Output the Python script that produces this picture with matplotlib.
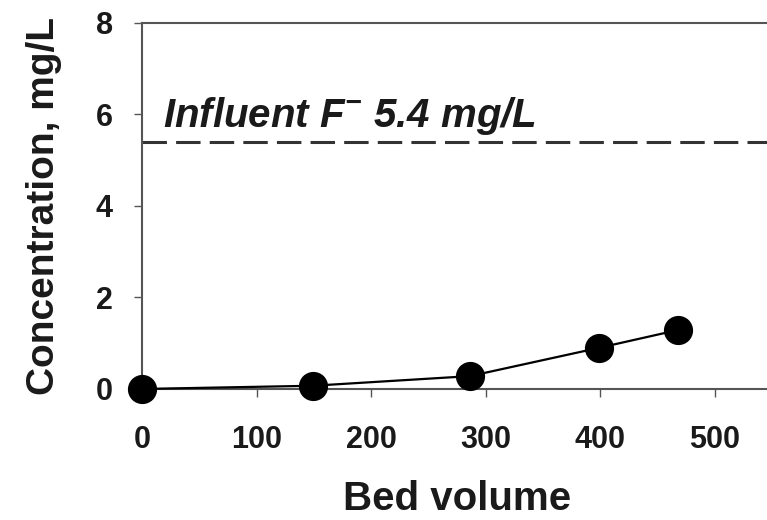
import matplotlib
matplotlib.use("Agg")
import matplotlib.pyplot as plt

# data
bed_volume = [0, 149, 286, 399, 468]
concentration = [0, 0.07, 0.28, 0.9, 1.29]
influent = 5.4
x_ticks = [0, 100, 200, 300, 400, 500]
y_ticks = [0, 2, 4, 6, 8]

plt.rcParams['font.family'] = ['Liberation Sans', 'DejaVu Sans']
plt.rcParams['font.weight'] = 'bold'
plt.rcParams['mathtext.fontset'] = 'custom'
plt.rcParams['mathtext.rm'] = 'Liberation Sans:bold:italic'
plt.rcParams['mathtext.bf'] = 'Liberation Sans:bold:italic'
plt.rcParams['mathtext.it'] = 'Liberation Sans:bold:italic'

fig = plt.figure(figsize=(7.67, 5.2), dpi=100)
ax = fig.add_axes([0.185, 0.252, 0.822, 0.704])

ax.axhline(influent, color='#333333', lw=2.2, ls=(0, (8, 3)), zorder=1)
ax.plot(bed_volume, concentration, color='black', lw=1.6, marker='o',
        markersize=20, markerfacecolor='black', markeredgecolor='black', zorder=3,
        clip_on=False)

ax.text(18, 5.72, r'Influent F$^{\mathrm{-}}$ 5.4 mg/L', fontsize=29, fontstyle='italic',
        fontweight='bold', color='#1a1a1a', va='baseline', ha='left')

ax.set_xlim(0, 550)
ax.set_ylim(0, 8)
ax.set_xticks(x_ticks)
ax.set_yticks(y_ticks)
ax.tick_params(axis='both', labelsize=22, length=6, width=1, color='#555555',
               direction='out', labelcolor='#1a1a1a')
ax.tick_params(axis='x', pad=20)
ax.tick_params(axis='y', pad=15)

for side in ['left', 'bottom', 'top']:
    ax.spines[side].set_color('#555555')
    ax.spines[side].set_linewidth(1.5)
ax.spines['right'].set_visible(False)

ax.set_xlabel('Bed volume', fontsize=29, fontweight='bold', color='#1a1a1a', labelpad=18)
ax.set_ylabel('Concentration, mg/L', fontsize=28, fontweight='bold', color='#1a1a1a', labelpad=24)

fig.savefig('out.png', dpi=100)
